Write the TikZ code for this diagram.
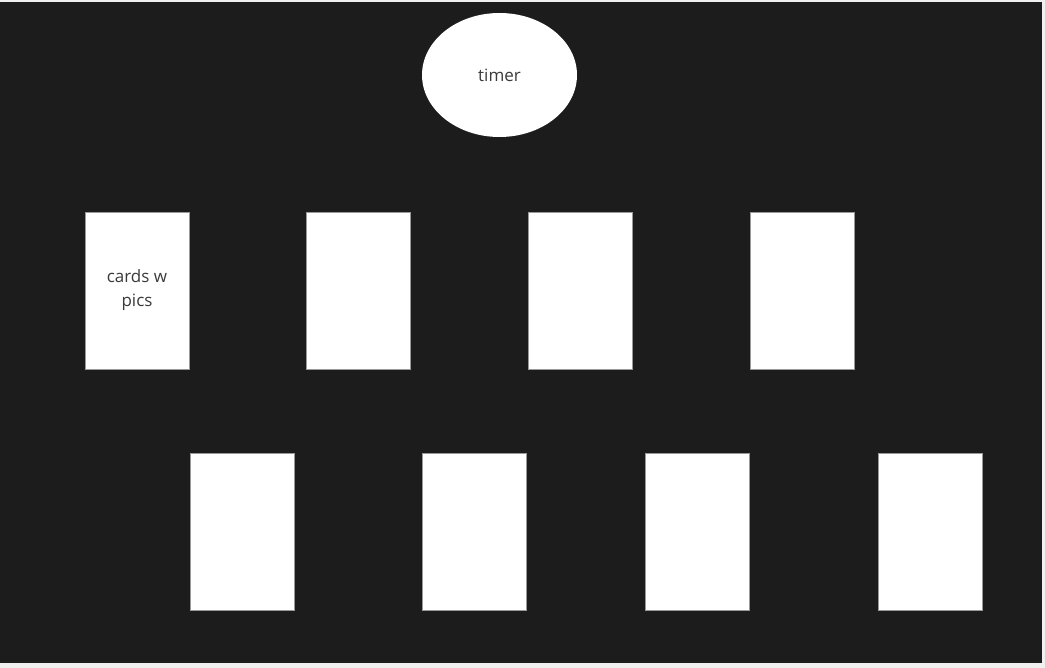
\documentclass[tikz,border=0pt]{standalone}
\usepackage{fontspec}
\setmainfont{Open Sans}
\usetikzlibrary{positioning}
\usetikzlibrary{shapes.geometric}
\definecolor{board}{HTML}{1C1C1C}
\definecolor{frame}{HTML}{F0F0F0}
\definecolor{ink}{HTML}{3A3A3A}

\begin{document}
\begin{tikzpicture}[x=1pt,y=-1pt,
    card/.style={rectangle,draw=gray!80,fill=white,line width=0.8pt,outer sep=0pt,minimum width=104pt,minimum height=157pt,inner sep=0pt,text=ink,align=center,font=\fontsize{17}{24}\selectfont},
    node distance=118pt]
    \fill[frame] (0,0) rectangle (1045,668);
    \fill[board] (0,2) rectangle (1042,663);

    \node[ellipse,fill=white,minimum width=155pt,minimum height=124pt,inner sep=0pt,text=ink,font=\fontsize{17}{20}\selectfont] (timer) at (499.5,75) {timer};

    \node[card] (card1) at (137,290.5) {\raisebox{-2pt}{cards w}\\\raisebox{-2pt}{pics}};
    \node[card] (card2) [right=117pt of card1] {};
    \node[card] (card3) [right=of card2] {};
    \node[card] (card4) [right=of card3] {};

    \node[card] (card5) at (242,531.5) {};
    \node[card] (card6) [right=128pt of card5] {};
    \node[card] (card7) [right=119pt of card6] {};
    \node[card] (card8) [right=129pt of card7] {};
  \end{tikzpicture}
\end{document}
